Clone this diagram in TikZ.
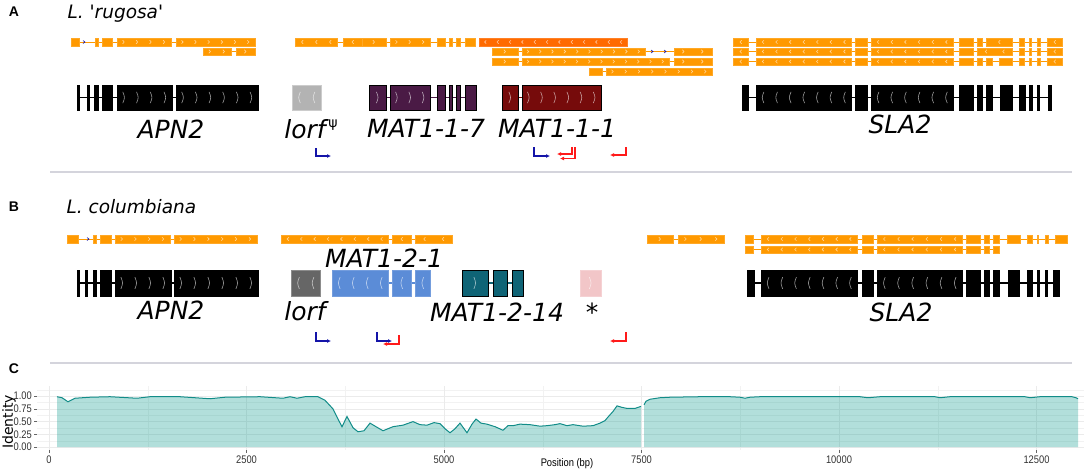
\documentclass[tikz,border=0pt]{standalone}
\usepackage{fontspec}
\setmainfont{DejaVu Sans}
\newfontfamily\genefont[Ligatures=TeXOff]{DejaVu Sans}
\newfontfamily\lettfont{Liberation Sans}
\newfontfamily\axisfont[FakeStretch=0.85]{Liberation Sans}
\usetikzlibrary{arrows.meta}

\definecolor{orng}{HTML}{FF9900}
\definecolor{dorng}{HTML}{FF6A00}
\definecolor{lorfa}{HTML}{B3B3B3}
\definecolor{lorfb}{HTML}{666666}
\definecolor{matsev}{HTML}{4A1A45}
\definecolor{matone}{HTML}{760B0B}
\definecolor{mattwo}{HTML}{5B8CD7}
\definecolor{matfourteen}{HTML}{0F6476}
\definecolor{star}{HTML}{F2C6C8}
\definecolor{pblue}{HTML}{1414A8}
\definecolor{pred}{HTML}{FF1A1A}
\definecolor{sepgray}{HTML}{D4D4DC}
\definecolor{idline}{HTML}{128C88}
\definecolor{idfill}{HTML}{009688}

% exons with strand chevrons: [style](y centre, half height, strand){a/b,...}
\def\exons[#1](#2,#3,#4)#5{%
  \foreach \ea/\eb in {#5}{%
    \draw[#1] (\ea,#2-#3) rectangle (\eb,#2+#3);
    \pgfmathtruncatemacro\nch{floor((\eb-\ea-3)/12)}
    \ifnum\nch>0
      \foreach \k in {1,...,\nch}{%
        \pgfmathsetmacro\cx{\ea+(\eb-\ea)*(\k-0.5)/\nch}
        \draw[chev] (\cx-1.1*#4,#2-0.45*#3) .. controls (\cx+1.1*#4,#2) .. (\cx-1.1*#4,#2+0.45*#3);
      }
    \fi
  }%
}
\def\genesize{\genefont\itshape\fontsize{25}{25}\selectfont}

\begin{document}
\begin{tikzpicture}[x=1pt,y=-1pt,
    chev/.style={white, opacity=0.6, line width=0.6},
    orex/.style={fill=orng, draw=orng!85!white, line width=0.4},
    orin/.style={orng, line width=0.9},
    blin/.style={black, line width=1.3},
    prom/.style={line width=1.4, -{Latex[length=4pt,width=4pt]}},
    gridmaj/.style={black!8, line width=0.6},
    gridmin/.style={black!5, line width=0.3},
    letter/.style={font=\lettfont\bfseries\fontsize{14}{14}\selectfont},
    species/.style={anchor=base west, font=\genefont\itshape\fontsize{18.5}{18.5}\selectfont},
    genelab/.style={anchor=base, font=\genesize},
    axlab/.style={font=\axisfont\fontsize{11}{11}\selectfont, text=black!80}]
  \useasboundingbox (0,0) rectangle (1084,472);
  %%%%% START %%%%%

  % ---- panel A ----
  \node[letter] (letA) at (14,12) {A};
  \node[species] (spA) at (64,18) {L. 'rugosa'};

  \draw[orin] (71,42) -- (255,42);
  \exons[orex](42,3.8,1){71/79,95/98,102/112,117/171,176/255}
  \draw[pblue, line width=0.6] (83,40.5) -- (85,42) -- (83,43.5);
  \draw[orin] (295,42) -- (475,42);
  \exons[orex](42,3.8,-1){295/337,343/362}
  \exons[orex](42,3.8,1){362/386,390/430,437/445,449/452,456/460,465/475}
  \exons[fill=dorng, draw=dorng!85!white, line width=0.4](42,3.8,-1){479/627}
  \draw[orin] (733,42) -- (1062,42);
  \exons[orex](42,3.8,-1){733/748,756/851,855/867,871/953,959/973,977/982,986/1012,1019/1024,1029/1031,1037/1040,1047/1062}

  \draw[orin] (203,51.5) -- (255,51.5);
  \exons[orex](51.5,3.8,1){203/231,236/255}
  \draw[orin] (492,51.5) -- (712,51.5);
  \exons[orex](51.5,3.8,1){492/518,522/645,674/712}
  \draw[pblue, line width=0.6] (651,50) -- (653,51.5) -- (651,53);
  \draw[pblue, line width=0.6] (664,50) -- (666,51.5) -- (664,53);
  \draw[orin] (733,51.5) -- (1062,51.5);
  \exons[orex](51.5,3.8,-1){733/748,756/851,855/867,871/953,959/973,977/1012,1019/1024,1029/1031,1037/1040,1047/1062}

  \draw[orin] (492,61.5) -- (712,61.5);
  \exons[orex](61.5,3.8,1){492/518,522/669,674/712}
  \draw[orin] (733,61.5) -- (1062,61.5);
  \exons[orex](61.5,3.8,-1){733/748,756/851,855/867,871/953,959/973,977/982,986/992,999/1012,1019/1024,1029/1031,1037/1040,1047/1062}

  \draw[orin] (589,71.5) -- (712,71.5);
  \exons[orex](71.5,3.8,1){589/602,606/712}

  \draw[blin] (77,97.5) -- (258,97.5);
  \exons[fill=black](97.5,12.5,1){77/79,87/89,94/98,102/112,117/172,176/258}
  \exons[fill=lorfa, draw=black!20, line width=0.6](97.5,12.5,-1){292/321}
  \draw[matsev, line width=1.3] (369,97.5) -- (476,97.5);
  \exons[fill=matsev](97.5,12.5,1){369/386,390/430,437/445,449/452,456/460,465/476}
  \draw[matone, line width=1.3] (502,97.5) -- (601,97.5);
  \exons[fill=matone](97.5,12.5,1){502/518,522/601}
  \draw[blin] (742,97.5) -- (1051,97.5);
  \exons[fill=black](97.5,12.5,-1){742/748,756/851,855/867,871/953,959/973,977/982,986/992,1000/1012,1019/1025,1029/1032,1037/1039,1048/1051}

  \node[genelab] (apnA) at (171,138) {APN2};
  \node[genelab] (lorfA) at (305,138) {lorf};
  \node[anchor=base west, inner sep=0, font=\genefont\fontsize{14}{14}\selectfont] (psiA) at ([xshift=-1, yshift=11]lorfA.base east) {ψ};
  \node[genelab] (sevA) at (426,137) {MAT1-1-7};
  \node[genelab] (oneA) at (557,137) {MAT1-1-1};
  \node[genelab] (slaA) at (900,133) {SLA2};

  \draw[prom, pblue] (316,148) |- (331,156);
  \draw[prom, pblue] (534,147) |- (550,156);
  \draw[prom, pred] (572,147) |- (557,154);
  \draw[prom, pred] (575,147) |- (560,158.5);
  \draw[prom, pred] (626,147) |- (610,155);

  \draw[sepgray, line width=1.2] (50,172) -- (1072,172);

  % ---- panel B ----
  \node[letter] (letB) at (14,207) {B};
  \node[species] (spB) at (63,213) {L. columbiana};

  \draw[orin] (67,239) -- (257,239);
  \exons[orex](239,3.8,1){67/78,93/96,100/111,115/170,174/257}
  \draw[pblue, line width=0.6] (87,237.5) -- (89,239) -- (87,240.5);
  \draw[orin] (281,239) -- (452,239);
  \exons[orex](239,3.8,-1){281/388,392/411,415/452}
  \draw[orin] (647,239) -- (724,239);
  \exons[orex](239,3.8,1){647/673,678/724}
  \draw[orin] (745,239) -- (1067,239);
  \exons[orex](239,3.8,-1){745/753,761/857,862/873,877/962,966/980,984/989,993/999,1007/1020,1027/1032,1037/1038,1045/1048,1055/1067}
  \draw[orin] (745,249.5) -- (999,249.5);
  \exons[orex](249.5,3.8,-1){745/753,761/857,862/873,877/962,966/980,984/989,993/999}

  \draw[blin] (77,283) -- (258,283);
  \exons[fill=black](283,13,1){77/79,85/87,93/96,100/111,115/171,174/258}
  \exons[fill=lorfb, draw=black!45, line width=0.6](283,13,-1){291/320}
  \draw[mattwo, line width=1.3] (332,283) -- (430,283);
  \exons[fill=mattwo, draw=mattwo!85!white, line width=0.5](283,13,-1){332/388,392/411,415/430}
  \draw[matfourteen, line width=1.3] (462,283) -- (523,283);
  \exons[fill=matfourteen](283,13,1){462/488,493/507,512/523}
  \exons[fill=star, draw=star!80!white, line width=0.5](283,13,1){580/601}
  \draw[blin] (747,283) -- (1059,283);
  \exons[fill=black](283,13,-1){747/754,761/857,862/873,877/962,966/980,984/989,993/999,1008/1019,1027/1032,1037/1039,1045/1047,1053/1059}

  \node[genelab] (twoB) at (384,267) {MAT1-2-1};
  \node[genelab] (apnB) at (171,319) {APN2};
  \node[genelab] (lorfB) at (305,320) {lorf};
  \node[genelab] (fourB) at (497,321) {MAT1-2-14};
  \node[genelab, font=\genefont\fontsize{25}{25}\selectfont] (starB) at (592,321) {*};
  \node[genelab] (slaB) at (901,321) {SLA2};

  \draw[prom, pblue] (316,332) |- (331,341);
  \draw[prom, pblue] (377,332) |- (392,341);
  \draw[prom, pred] (399,335) |- (383,344);
  \draw[prom, pred] (626,332) |- (610,341);

  \draw[sepgray, line width=1.2] (50,363) -- (1072,363);

  % ---- panel C ----
  \node[letter] (letC) at (14,369) {C};

  \foreach \gx in {147.75,345.25,542.75,740.25,937.75}
    \draw[gridmin] (\gx,386) -- (\gx,450);
  \foreach \gy in {389.85,402.55,415.25,427.95,440.65}
    \draw[gridmin] (37,\gy) -- (1084,\gy);
  \foreach \gx in {49,246.5,444,641.5,839,1036.5}
    \draw[gridmaj] (\gx,386) -- (\gx,450);
  \foreach \gy in {396.2,408.9,421.6,434.3,447}
    \draw[gridmaj] (37,\gy) -- (1084,\gy);

  \begin{scope}[shift={(0,447)}, yscale=-50.8]
    \fill[idfill, opacity=0.3] (57,0) -- (57,0.99) -- (62,0.97) -- (68,0.89) -- (75,0.96) -- (90,0.98) -- (110,0.99) -- (137,0.96) -- (150,0.99) -- (180,0.99) -- (210,0.95) -- (225,0.98) -- (260,0.99) -- (283,0.96) -- (290,0.99) -- (297,0.96) -- (305,0.99) -- (318,0.99) -- (325,0.92) -- (333,0.75) -- (338,0.55) -- (342,0.40) -- (347,0.60) -- (353,0.38) -- (358,0.30) -- (364,0.32) -- (370,0.47) -- (376,0.40) -- (383,0.32) -- (393,0.40) -- (403,0.43) -- (413,0.50) -- (420,0.44) -- (427,0.43) -- (434,0.48) -- (440,0.46) -- (445,0.36) -- (450,0.28) -- (455,0.36) -- (460,0.47) -- (467,0.28) -- (472,0.45) -- (476,0.55) -- (481,0.47) -- (487,0.45) -- (495,0.40) -- (503,0.33) -- (508,0.42) -- (513,0.42) -- (520,0.45) -- (530,0.44) -- (540,0.41) -- (547,0.42) -- (555,0.44) -- (560,0.46) -- (567,0.42) -- (573,0.44) -- (583,0.41) -- (593,0.42) -- (600,0.47) -- (605,0.52) -- (608,0.59) -- (613,0.70) -- (617,0.81) -- (622,0.78) -- (627,0.76) -- (635,0.76) -- (641,0.80) -- (641,0) -- cycle;
    \draw[idline, line width=1] (57,0.99) -- (62,0.97) -- (68,0.89) -- (75,0.96) -- (90,0.98) -- (110,0.99) -- (137,0.96) -- (150,0.99) -- (180,0.99) -- (210,0.95) -- (225,0.98) -- (260,0.99) -- (283,0.96) -- (290,0.99) -- (297,0.96) -- (305,0.99) -- (318,0.99) -- (325,0.92) -- (333,0.75) -- (338,0.55) -- (342,0.40) -- (347,0.60) -- (353,0.38) -- (358,0.30) -- (364,0.32) -- (370,0.47) -- (376,0.40) -- (383,0.32) -- (393,0.40) -- (403,0.43) -- (413,0.50) -- (420,0.44) -- (427,0.43) -- (434,0.48) -- (440,0.46) -- (445,0.36) -- (450,0.28) -- (455,0.36) -- (460,0.47) -- (467,0.28) -- (472,0.45) -- (476,0.55) -- (481,0.47) -- (487,0.45) -- (495,0.40) -- (503,0.33) -- (508,0.42) -- (513,0.42) -- (520,0.45) -- (530,0.44) -- (540,0.41) -- (547,0.42) -- (555,0.44) -- (560,0.46) -- (567,0.42) -- (573,0.44) -- (583,0.41) -- (593,0.42) -- (600,0.47) -- (605,0.52) -- (608,0.59) -- (613,0.70) -- (617,0.81) -- (622,0.78) -- (627,0.76) -- (635,0.76) -- (641,0.80);
    \fill[idfill, opacity=0.3] (644,0) -- (644,0.83) -- (646,0.90) -- (650,0.94) -- (660,0.97) -- (670,0.98) -- (700,0.99) -- (730,0.99) -- (740,0.98) -- (745,0.96) -- (750,0.98) -- (760,0.99) -- (800,0.99) -- (860,0.99) -- (868,0.97) -- (880,0.99) -- (935,0.99) -- (940,0.97) -- (950,0.99) -- (1025,0.99) -- (1030,0.97) -- (1040,0.99) -- (1072,0.99) -- (1076,0.97) -- (1078,0.95) -- (1078,0) -- cycle;
    \draw[idline, line width=1] (644,0.83) -- (646,0.90) -- (650,0.94) -- (660,0.97) -- (670,0.98) -- (700,0.99) -- (730,0.99) -- (740,0.98) -- (745,0.96) -- (750,0.98) -- (760,0.99) -- (800,0.99) -- (860,0.99) -- (868,0.97) -- (880,0.99) -- (935,0.99) -- (940,0.97) -- (950,0.99) -- (1025,0.99) -- (1030,0.97) -- (1040,0.99) -- (1072,0.99) -- (1076,0.97) -- (1078,0.95);
  \end{scope}

  \foreach \gy/\lab in {396.2/1.00,408.9/0.75,421.6/0.50,434.3/0.25,447/0.00}{
    \draw[black!60, line width=0.5] (34,\gy) -- (37,\gy);
    \node[axlab, anchor=east, inner sep=1] (yt\lab) at (33,\gy) {\lab};
  }
  \foreach \gx/\lab in {49/0,246.5/2500,444/5000,641.5/7500,839/10000,1036.5/12500}{
    \draw[black!60, line width=0.5] (\gx,450) -- (\gx,453);
    \node[axlab, anchor=north, inner sep=1] (xt\lab) at (\gx,455) {\lab};
  }
  \node[font=\axisfont\fontsize{11}{11}\selectfont, anchor=north, inner sep=1] (xlab) at (567,457) {Position (bp)};
  \node[rotate=90, font=\fontsize{14}{14}\selectfont, inner sep=1] (ylab) at (9,422) {Identity};

  %%%%% END %%%%%
\end{tikzpicture}
\end{document}
